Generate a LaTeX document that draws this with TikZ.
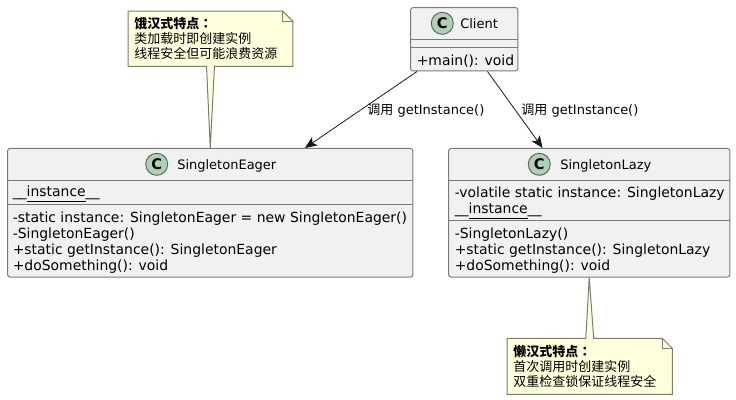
\documentclass[tikz,border=0pt]{standalone}
\usepackage{fontspec}
\setmainfont{DejaVu Sans}
\newfontfamily\cjk{Noto Sans CJK SC}
\newfontfamily\cjktc{Noto Sans CJK TC}
\usetikzlibrary{arrows.meta}
\definecolor{boxfill}{HTML}{F1F1F1}
\definecolor{boxline}{HTML}{7A7A7A}
\definecolor{notefill}{HTML}{FEFFDD}
\definecolor{noteline}{HTML}{7D7D6E}
\definecolor{spotfill}{HTML}{ADD1B2}
\definecolor{inkdark}{HTML}{181818}
\tikzset{>={Stealth[length=9pt,width=7.5pt,inset=2.2pt]}}
\tikzset{
  classbox/.style={draw=boxline,fill=boxfill,line width=0.75pt,rounded corners=2pt,inner sep=0pt},
  spot/.style={circle,draw=inkdark!70,fill=spotfill,line width=0.7pt,minimum size=16.5pt,inner sep=0pt,font=\fontsize{11}{11}\bfseries\selectfont},
  classname/.style={anchor=base west,inner sep=0pt,text=black,font=\fontsize{9.75}{12}\selectfont},
  members/.style={anchor=north west,inner sep=0pt,align=left,text=black,font=\fontsize{10.45}{12}\selectfont},
  notebody/.style={inner sep=0pt},
  notetext/.style={anchor=north west,inner sep=0pt,align=left,text=black,font=\fontsize{9.75}{11.25}\selectfont\cjk},
  calllabel/.style={right,inner sep=4.5pt,yshift=-0.6pt,text=black,font=\fontsize{9.75}{12}\selectfont}
}
% folded corner and tail of a note
\newcommand{\notepath}[1]{
  \draw[fill=notefill,draw=noteline,line width=0.75pt] (#1.north west) -- ([xshift=-7.5pt]#1.north east) -- ([yshift=-7.5pt]#1.north east) -- (#1.south east) -- (#1.south west) -- cycle;
  \draw[draw=noteline,line width=0.75pt] ([xshift=-7.5pt]#1.north east) |- ([yshift=-7.5pt]#1.north east);
}
\newlength{\instwd}
\newcommand{\instanceline}{\settowidth{\instwd}{instance}\_\_\rlap{\rule[-3.85pt]{\instwd}{0.7pt}}instance\_\_}

\begin{document}
\begin{tikzpicture}[x=0.75pt,y=-0.75pt]
  \useasboundingbox (0,0) rectangle (736,400);
  % classes
  \node[classbox,minimum width=304.1pt,minimum height=96.4pt] (eager) at (210.25,212.75) {};
  \node[classbox,minimum width=80.6pt,minimum height=47.6pt] (client) at (464.25,39.25) {};
  \node[classbox,minimum width=211.1pt,minimum height=96.4pt] (lazy) at (589.25,212.75) {};
  \draw[boxline,line width=0.75pt] (eager.west |- 0,180.5) -- (eager.east |- 0,180.5);
  \draw[boxline,line width=0.75pt] (eager.west |- 0,204.5) -- (eager.east |- 0,204.5);
  \draw[boxline,line width=0.75pt] (client.west |- 0,39.5) -- (client.east |- 0,39.5);
  \draw[boxline,line width=0.75pt] (client.west |- 0,47.5) -- (client.east |- 0,47.5);
  \draw[boxline,line width=0.75pt] (lazy.west |- 0,180.5) -- (lazy.east |- 0,180.5);
  \draw[boxline,line width=0.75pt] (lazy.west |- 0,220.5) -- (lazy.east |- 0,220.5);
  \node[spot] (eagerspot) at (156.7,164.3) {C};
  \node[spot] (clientspot) at (442.3,23.3) {C};
  \node[spot] (lazyspot) at (539.3,164.3) {C};
  \node[classname] (eagername) at (177,169) {SingletonEager};
  \node[classname] (clientname) at (460,28.5) {Client};
  \node[classname] (lazyname) at (560,169) {SingletonLazy};
  \node[members] (eagerfield) at (12.5,186) {\instanceline};
  \node[members] (eagermethods) at (12.5,212) {-static instance: SingletonEager = new SingletonEager()\\-SingletonEager()\\+static getInstance(): SingletonEager\\+doSomething(): void};
  \node[members] (clientmethods) at (416.5,54.5) {+main(): void};
  \node[members] (lazyfields) at (454.5,187) {-volatile static instance: SingletonLazy\\\instanceline};
  \node[members] (lazymethods) at (454.5,228) {-SingletonLazy()\\+static getInstance(): SingletonLazy\\+doSomething(): void};
  % notes
  \node[notebody,minimum width=123pt,minimum height=41pt] (noteeager) at (210.5,38.75) {};
  \node[notebody,minimum width=123.4pt,minimum height=41.6pt] (notelazy) at (589.75,366.25) {};
  \notepath{noteeager}
  \notepath{notelazy}
  \draw[fill=notefill,draw=noteline,line width=0.75pt] ([xshift=-3pt,yshift=0.5pt]noteeager.south) -- (eager.north) -- ([xshift=3pt,yshift=0.5pt]noteeager.south);
  \draw[fill=notefill,draw=noteline,line width=0.75pt] ([xshift=-3pt,yshift=-0.5pt]notelazy.north) -- (lazy.south) -- ([xshift=3pt,yshift=-0.5pt]notelazy.north);
  \node[notetext] (noteeagertext) at (134,17.5) {{\bfseries 饿汉式特点{\cjktc ：}}\\类加载时即创建实例\\线程安全但可能浪费资源};
  \node[notetext] (notelazytext) at (513,345.5) {{\bfseries 懒汉式特点{\cjktc ：}}\\首次调用时创建实例\\双重检查锁保证线程安全};
  % calls
  \draw[->,inkdark,line width=0.6pt] (client) -- node[calllabel] {{\cjk 调用} getInstance()} (eager);
  \draw[->,inkdark,line width=0.6pt] (client) -- node[calllabel] {{\cjk 调用} getInstance()} (lazy);
\end{tikzpicture}
\end{document}
